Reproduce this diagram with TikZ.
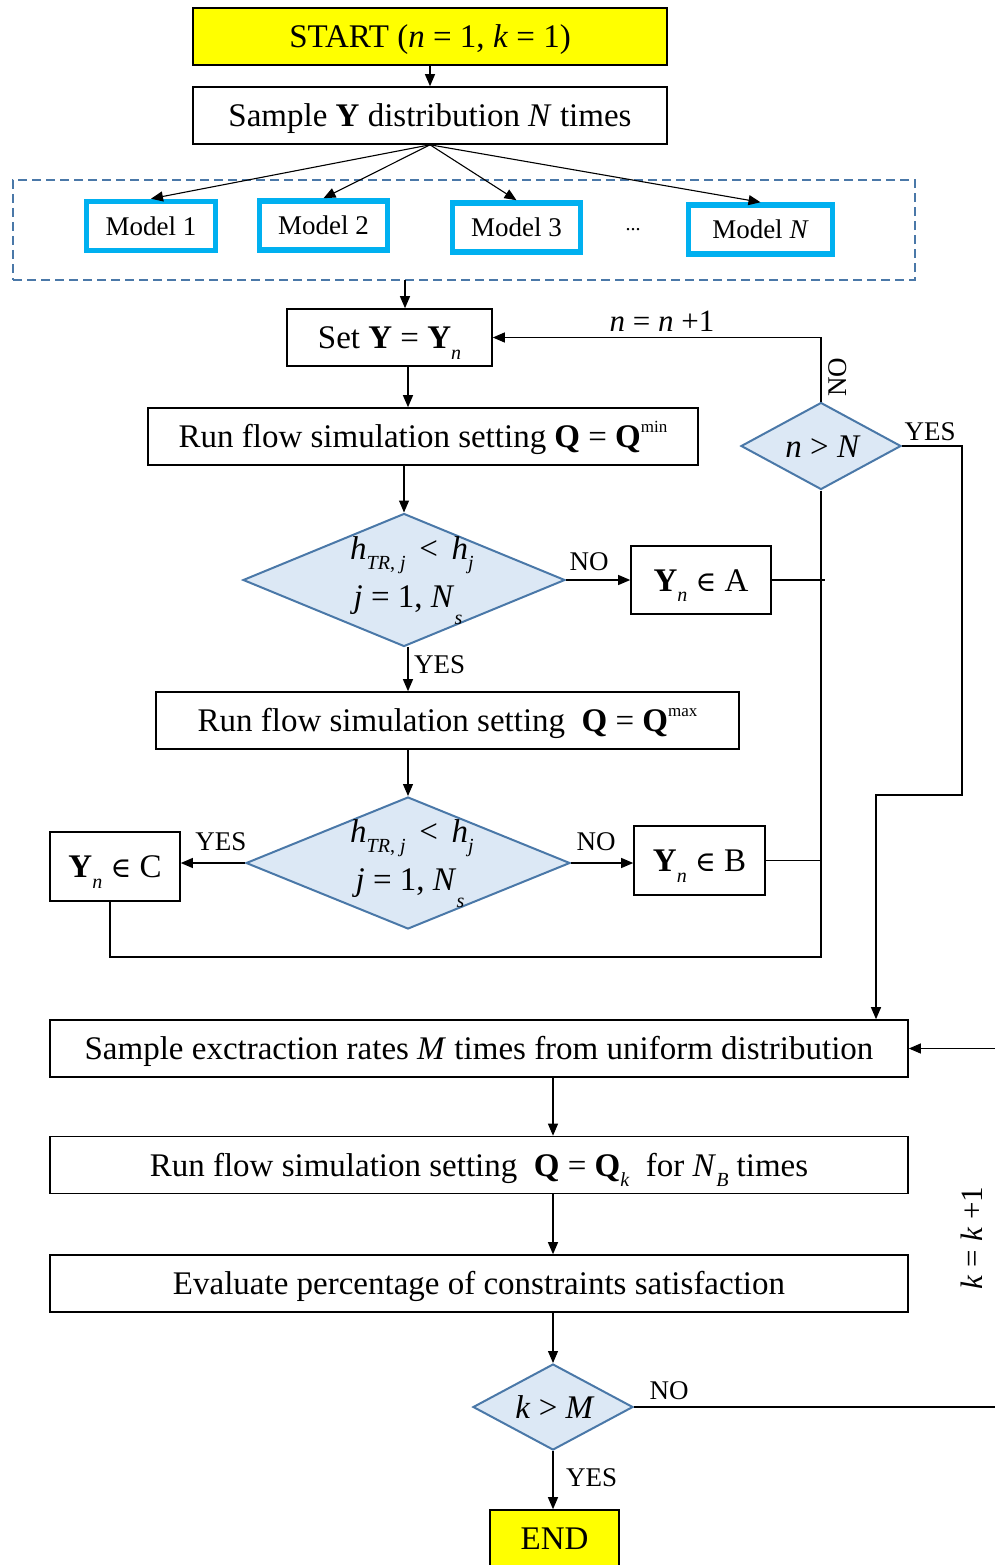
\documentclass[tikz,border=0pt]{standalone}
\usepackage{fontspec}
\setmainfont{Liberation Serif}
\newfontfamily\dvs{DejaVu Serif}
\usetikzlibrary{shapes.geometric,arrows.meta}
\definecolor{yfill}{HTML}{FFFF00}
\definecolor{mcyan}{HTML}{00B0F0}
\definecolor{dblue}{HTML}{4A78A8}
\definecolor{dfill}{HTML}{DCE8F5}
\newcommand\vi[1]{\textit{#1}}
\newcommand\sbs[1]{\raisebox{-0.32em}{\fontsize{20}{20}\selectfont #1}}
\newcommand\sps[1]{\raisebox{0.45em}{\fontsize{17}{17}\selectfont #1}}
\newcommand\elem{{\dvs\fontsize{28}{30}\selectfont ∈}}
\begin{document}
\begin{tikzpicture}[x=1pt,y=-1pt,
  every node/.style={font=\fontsize{33}{36}\selectfont, inner sep=0pt},
  box/.style={draw, line width=1.6pt, minimum height=57, text height=22pt, text depth=0pt},
  ybox/.style={box, fill=yfill},
  model/.style={draw=mcyan, line width=5.5pt, minimum height=49, minimum width=128, font=\fontsize{27}{30}\selectfont, text height=18pt, text depth=0pt},
  dia/.style={diamond, draw=dblue, fill=dfill, line width=2pt, inner sep=0pt},
  lab/.style={font=\fontsize{27}{30}\selectfont},
  arr/.style={-{Triangle[length=12pt,width=10pt]}, line width=1.1pt},
  ln/.style={line width=1.1pt}]
\useasboundingbox (0,0) rectangle (994,1565);
% top
\node[ybox, minimum width=474] (start) at (430,36.5) {START (\vi{n} = 1, \vi{k} = 1)};
\node[box, minimum width=474] (samp) at (430,115.5) {Sample \textbf{Y} distribution \vi{N} times};
\draw[arr] (start.south) -- (samp.north);
\node[draw=dblue, line width=1.6pt, dash pattern=on 9pt off 5pt, minimum width=902, minimum height=100] (grp) at (464,230) {};
\node[model, minimum width=129] (m1) at (151,226) {Model 1};
\node[model] (m2) at (323.5,225.5) {Model 2};
\node[model] (m3) at (516.5,227.5) {Model 3};
\node[font=\fontsize{20}{20}\selectfont] (dots) at (633,230) {...};
\node[model, minimum width=144] (mN) at (760.5,229.5) {Model \vi{N}};
\foreach \m in {m1,m2,m3,mN} \draw[arr] (samp.south) -- (\m.north);
% Set Y
\node[box, minimum width=205] (setb) at (389.5,337.5) {Set \textbf{Y} = \textbf{Y}\sbs{\vi{n}}};
\coordinate (g1) at (405,280);
\draw[arr] (g1) -- (g1 |- setb.north);
\node[box, minimum width=550] (qmin) at (423,436.5) {Run flow simulation setting \textbf{Q} = \textbf{Q}\sps{min}};
\coordinate (g2) at (408,366);
\draw[arr] (g2) -- (g2 |- qmin.north);
% diamond 1
\node[dia, minimum width=322, minimum height=133] (d1) at (404,580) {};
\node (d1a) at (412,555) {\vi{h}\sbs{\vi{TR}, \vi{j}} \,<\, \vi{h}\sbs{\vi{j}}};
\node (d1b) at (408,605) {\vi{j} = 1, \vi{N}\raisebox{-0.5em}{\fontsize{20}{20}\selectfont\vi{s}}};
\draw[arr] (d1.north |- qmin.south) -- (d1.north);
\node[box, minimum width=140, minimum height=68] (abox) at (701,580) {\textbf{Y}\sbs{\vi{n}} \elem\ A};
\draw[arr] (d1.east) -- (abox.west);
\node[lab] (no1) at (589,562) {NO};
% Qmax
\node[box, minimum width=583] (qmax) at (447.5,720.5) {Run flow simulation setting \ \textbf{Q} = \textbf{Q}\sps{max}};
\coordinate (g3) at (408,647);
\draw[arr] (g3) -- (g3 |- qmax.north);
\node[lab, anchor=west] (yes1) at (414,665) {YES};
% diamond 2
\node[dia, minimum width=324, minimum height=132] (d2) at (408,863) {};
\node (d2a) at (412,838) {\vi{h}\sbs{\vi{TR}, \vi{j}} \,<\, \vi{h}\sbs{\vi{j}}};
\node (d2b) at (410,888) {\vi{j} = 1, \vi{N}\raisebox{-0.5em}{\fontsize{20}{20}\selectfont\vi{s}}};
\draw[arr] (d2.north |- qmax.south) -- (d2.north);
\node[box, minimum width=131, minimum height=69] (bbox) at (699.5,860.5) {\textbf{Y}\sbs{\vi{n}} \elem\ B};
\draw[arr] (d2.east) -- (d2.east -| bbox.west);
\node[lab] (no2) at (596,842) {NO};
\node[box, minimum width=130, minimum height=69] (cbox) at (115,866.5) {\textbf{Y}\sbs{\vi{n}} \elem\ C};
\draw[arr] (d2.west) -- (d2.west -| cbox.east);
\node[lab] (yes2) at (221,842) {YES};
% n > N
\node[dia, minimum width=160, minimum height=87] (dn) at (821,446) {};
\node (dnt) at (823,447) {\vi{n} > \vi{N}};
\draw[arr] (dn.north) |- (setb.east);
\node[font=\fontsize{31}{32}\selectfont] (nlab) at (662,321) {\vi{n} = \vi{n} +1};
\node[lab, rotate=90] (no3) at (838,377) {NO};
\node[lab] (yes3) at (930,432) {YES};
\coordinate (bot) at (821,957);
\coordinate (cl) at (110,957);
\draw[ln] (dn.south) -- (bot) -- (cl) -- (cl |- cbox.south);
\draw[ln] (abox.east) -- ++(53,0);
\draw[ln] (bbox.east) -- (bbox.east -| bot);
% lower part
\node[box, minimum width=858] (sampM) at (479,1048.5) {Sample exctraction rates \vi{M} times from uniform distribution};
\node[box, minimum width=858] (qk) at (479,1165) {Run flow simulation setting \ \textbf{Q} = \textbf{Q}\sbs{\vi{k}} \ for \vi{N}\sbs{\vi{B}} times};
\node[box, minimum width=858] (evalb) at (479,1283.5) {Evaluate percentage of constraints satisfaction};
\coordinate (c1) at (962,795);
\coordinate (c2) at (876,795);
\draw[arr] (dn.east) -| (c1) -- (c2) -- (c2 |- sampM.north);
\node[dia, minimum width=160, minimum height=86] (d3) at (553,1407) {};
\node (d3t) at (555,1407) {\vi{k} > \vi{M}};
\draw[arr] (d3.north |- sampM.south) -- (d3.north |- qk.north);
\draw[arr] (d3.north |- qk.south) -- (d3.north |- evalb.north);
\draw[arr] (d3.north |- evalb.south) -- (d3.north);
\node[ybox, minimum width=129] (endb) at (554.5,1538.5) {END};
\draw[arr] (d3.south) -- (d3.south |- endb.north);
\node[lab, anchor=west] (yes4) at (566,1478) {YES};
\node[lab] (no4) at (669,1391) {NO};
\coordinate (rt) at (998,1407);
\coordinate (rt2) at (998,1048.5);
\draw[arr] (d3.east) -- (rt) -- (rt2) -- (sampM.east);
\node[font=\fontsize{31}{32}\selectfont, rotate=90] (klab) at (972,1238) {\vi{k} = \vi{k} +1};
\end{tikzpicture}
\end{document}
